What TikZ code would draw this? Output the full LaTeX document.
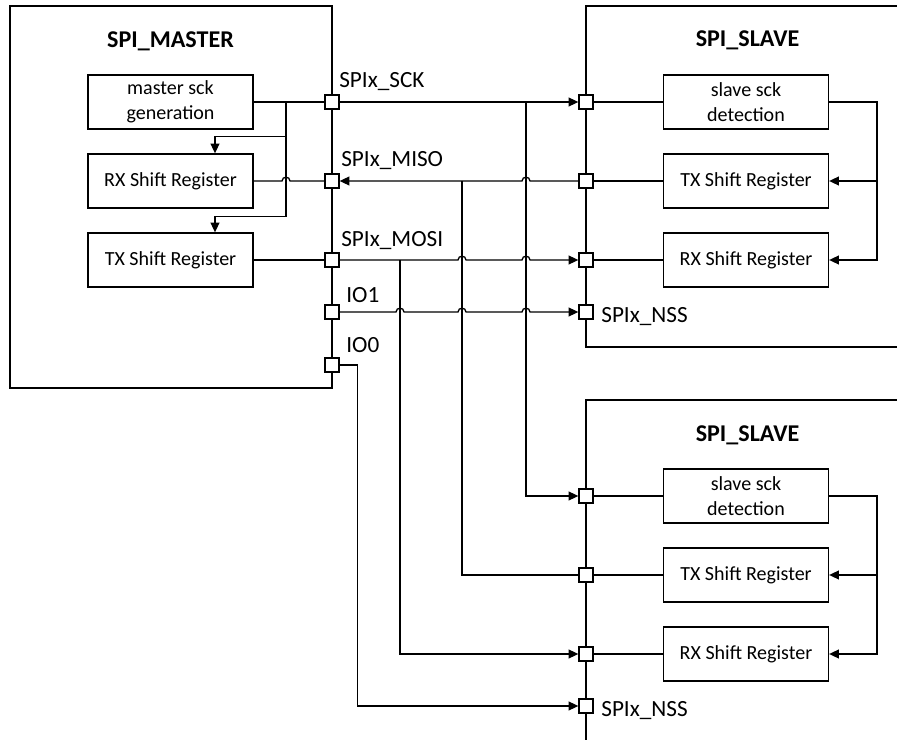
\documentclass[tikz,border=0pt]{standalone}
\usepackage{fontspec}
\setmainfont{Carlito}
\usetikzlibrary{arrows.meta,calc}

\tikzset{
  sig/.style={line width=0.75pt},
  arr/.style={-{Triangle[length=5.5pt,width=5pt]}},
  rarr/.style={{Triangle[length=5.5pt,width=5pt]}-},
  blk/.style={draw,line width=0.75pt,minimum width=3.3cm,minimum height=1.08cm,
    align=center,inner sep=0pt,font=\fontsize{11.4}{14.2}\selectfont},
  pin/.style={draw,line width=0.75pt,fill=white,minimum size=0.28cm,inner sep=0pt},
  lbl/.style={inner sep=0pt,font=\fontsize{13.2}{15}\selectfont},
  ttl/.style={inner sep=0pt,font=\fontsize{13.7}{16}\selectfont\bfseries},
}
% small bridge where a wire passes over another one
\newcommand{\sighop}[2]{-- (#1-4,#2) .. controls (#1-4,#2-5) and (#1+4,#2-5) .. (#1+4,#2)}

\begin{document}
\begin{tikzpicture}[x=0.02cm,y=-0.02cm]
    \useasboundingbox (0,0) rectangle (897,740);

    % Outlines of master and slaves
    \draw[sig] (10,6) rectangle (332,388);
    \draw[sig] (897,6) -| (586,347) -- (897,347);
    \draw[sig] (897,400) -| (586,740);

    % Titles
    \node[ttl,anchor=base] (mttl) at (170.5,48) {SPI\_MASTER};
    \node[ttl,anchor=base] (s1ttl) at (747.5,47) {SPI\_SLAVE};
    \node[ttl,anchor=base] (s2ttl) at (747.5,441) {SPI\_SLAVE};

    % Master blocks
    \node[blk] (gen) at (170.5,102) {master sck\\generation};
    \node[blk] (mrx) at (170.5,181) {RX Shift Register};
    \node[blk] (mtx) at (170.5,260) {TX Shift Register};

    % Slave blocks
    \node[blk] (s1det) at (746,102) {slave sck\\detection};
    \node[blk] (s1tx) at (746,181) {TX Shift Register};
    \node[blk] (s1rx) at (746,260) {RX Shift Register};
    \node[blk] (s2det) at (746,496) {slave sck\\detection};
    \node[blk] (s2tx) at (746,575) {TX Shift Register};
    \node[blk] (s2rx) at (746,654) {RX Shift Register};

    % Pins
    \node[pin] (mSCK) at (332,102) {};
    \node[pin] (mMISO) at (332,181) {};
    \node[pin] (mMOSI) at (332,260) {};
    \node[pin] (mIO1) at (332,312) {};
    \node[pin] (mIO0) at (332,365) {};
    \node[pin] (s1SCK) at (586,102) {};
    \node[pin] (s1MISO) at (586,181) {};
    \node[pin] (s1MOSI) at (586,260) {};
    \node[pin] (s1NSS) at (586,312) {};
    \node[pin] (s2SCK) at (586,496) {};
    \node[pin] (s2MISO) at (586,575) {};
    \node[pin] (s2MOSI) at (586,654) {};
    \node[pin] (s2NSS) at (586,706) {};

    % Pin labels
    \node[lbl,anchor=base west] at (339,87.5) {SPIx\_SCK};
    \node[lbl,anchor=base west] at (341,167) {SPIx\_MISO};
    \node[lbl,anchor=base west] at (341,247) {SPIx\_MOSI};
    \node[lbl,anchor=base west] at (346,302) {IO1};
    \node[lbl,anchor=base west] at (346,353) {IO0};
    \node[lbl,anchor=base west] at (601,322) {SPIx\_NSS};
    \node[lbl,anchor=base west] at (601,716) {SPIx\_NSS};

    % Master internal wiring
    \coordinate (jm) at (286,102);
    \draw[sig] (gen.east) -- (mSCK.west);
    \draw[sig,arr] (jm) |- ($(mrx.north)+(44.5,-17)$) -- ($(mrx.north)+(44.5,0)$);
    \draw[sig,arr] (jm) |- ($(mtx.north)+(44.5,-16)$) -- ($(mtx.north)+(44.5,0)$);
    \draw[sig] (mrx.east) \sighop{286}{181} -- (mMISO.west);
    \draw[sig] (mtx.east) -- (mMOSI.west);

    % Master to first slave
    \draw[sig,arr] (mSCK.east) -- (s1SCK.west);
    \draw[sig,rarr] (mMISO.east) \sighop{526}{181} -- (s1MISO.west);
    \draw[sig,arr] (mMOSI.east) \sighop{462}{260} \sighop{526}{260} -- (s1MOSI.west);
    \draw[sig,arr] (mIO1.east) \sighop{400}{312} \sighop{462}{312} \sighop{526}{312} -- (s1NSS.west);

    % Taps down to second slave
    \coordinate (jSCK) at (526,102);
    \coordinate (jMISO) at (462,181);
    \coordinate (jMOSI) at (400,260);
    \draw[sig,arr] (jSCK) |- (s2SCK.west);
    \draw[sig] (jMISO) |- (s2MISO.west);
    \draw[sig,arr] (jMOSI) |- (s2MOSI.west);
    \draw[sig,arr] (mIO0.east) -- ++(18,0) |- (s2NSS.west);

    % Slave internal wiring
    \draw[sig] (s1SCK.east) -- (s1det.west);
    \draw[sig] (s1MISO.east) -- (s1tx.west);
    \draw[sig] (s1MOSI.east) -- (s1rx.west);
    \draw[sig,arr] (s1det.east) -| ($(s1rx.east)+(48,0)$) -- (s1rx.east);
    \draw[sig,arr] ($(s1tx.east)+(48,0)$) -- (s1tx.east);

    \draw[sig] (s2SCK.east) -- (s2det.west);
    \draw[sig] (s2MISO.east) -- (s2tx.west);
    \draw[sig] (s2MOSI.east) -- (s2rx.west);
    \draw[sig,arr] (s2det.east) -| ($(s2rx.east)+(48,0)$) -- (s2rx.east);
    \draw[sig,arr] ($(s2tx.east)+(48,0)$) -- (s2tx.east);
\end{tikzpicture}
\end{document}
